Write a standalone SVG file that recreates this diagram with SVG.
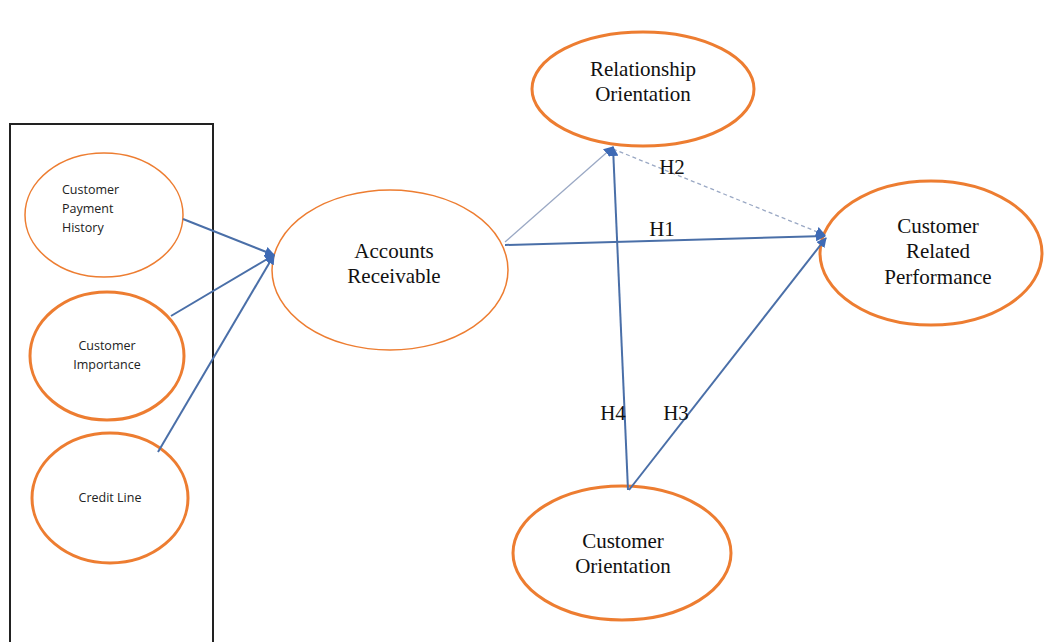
<svg xmlns="http://www.w3.org/2000/svg" width="1046" height="642" viewBox="0 0 1046 642">
<style>
.node{fill:#fff;stroke:#ED7D31;stroke-width:3}
.thin{stroke-width:1.5}
.t{font-family:"Liberation Serif","Times New Roman",serif;font-size:21px;fill:#111;text-anchor:middle}
.s{font-family:"Open Sans","Liberation Sans",sans-serif;font-size:12.5px;fill:#222}
.c{stroke:#4A6FA8;stroke-width:2;fill:none}
.lt{stroke:#9AA8C4;stroke-width:1.3;fill:none}
.lbl{font-family:"Liberation Serif","Times New Roman",serif;font-size:21px;fill:#111;text-anchor:middle}
</style>
<defs>
<marker id="ah" viewBox="0 0 10 10" refX="9" refY="5" markerWidth="10" markerHeight="10" markerUnits="userSpaceOnUse" orient="auto">
<path d="M0,0 L10,5 L0,10 z" fill="#3E6AB5"/>
</marker>
</defs>
<rect width="1046" height="642" fill="#fff"/>
<rect id="box" x="10" y="124" width="203" height="530" fill="none" stroke="#222" stroke-width="2"/>
<g id="n-cph"><ellipse class="node thin" cx="104" cy="215" rx="79" ry="62"/>
<text class="s" x="62" y="194">Customer</text><text class="s" x="62" y="213">Payment</text><text class="s" x="62" y="232">History</text></g>
<g id="n-ci"><ellipse class="node" cx="107" cy="356" rx="77" ry="64"/>
<text class="s" x="107" y="350" text-anchor="middle">Customer</text><text class="s" x="107" y="369" text-anchor="middle">Importance</text></g>
<g id="n-cl"><ellipse class="node" cx="110" cy="498" rx="78" ry="65"/>
<text class="s" x="110" y="502" text-anchor="middle">Credit Line</text></g>
<g id="n-ar"><ellipse class="node thin" cx="390" cy="270" rx="118" ry="80"/>
<text class="t" x="394" y="258">Accounts</text><text class="t" x="394" y="283">Receivable</text></g>
<g id="n-ro"><ellipse class="node" cx="643" cy="89" rx="111" ry="57"/>
<text class="t" x="643" y="76">Relationship</text><text class="t" x="643" y="101">Orientation</text></g>
<g id="n-crp"><ellipse class="node" cx="931" cy="253" rx="111" ry="72"/>
<text class="t" x="938" y="233">Customer</text><text class="t" x="938" y="258">Related</text><text class="t" x="938" y="284">Performance</text></g>
<g id="n-co"><ellipse class="node" cx="622" cy="553" rx="109" ry="67"/>
<text class="t" x="623" y="548">Customer</text><text class="t" x="623" y="573">Orientation</text></g>
<g id="connectors">
<line class="c" x1="183" y1="219" x2="274" y2="255" marker-end="url(#ah)"/>
<line class="c" x1="171" y1="316" x2="274" y2="255" marker-end="url(#ah)"/>
<line class="c" x1="158" y1="452" x2="274" y2="255" marker-end="url(#ah)"/>
<line class="lt" x1="505" y1="242" x2="613" y2="147" marker-end="url(#ah)"/>
<line class="lt" x1="613" y1="149" x2="825" y2="235" stroke-dasharray="4,3" marker-end="url(#ah)"/>
<line class="c" x1="505" y1="245" x2="825" y2="236" marker-end="url(#ah)"/>
<line class="c" x1="628" y1="490" x2="613" y2="147" marker-end="url(#ah)"/>
<line class="c" x1="629" y1="490" x2="826" y2="238" marker-end="url(#ah)"/>
<text class="lbl" x="672" y="174">H2</text>
<text class="lbl" x="662" y="236">H1</text>
<text class="lbl" x="613" y="420">H4</text>
<text class="lbl" x="676" y="420">H3</text>
</g>
</svg>
